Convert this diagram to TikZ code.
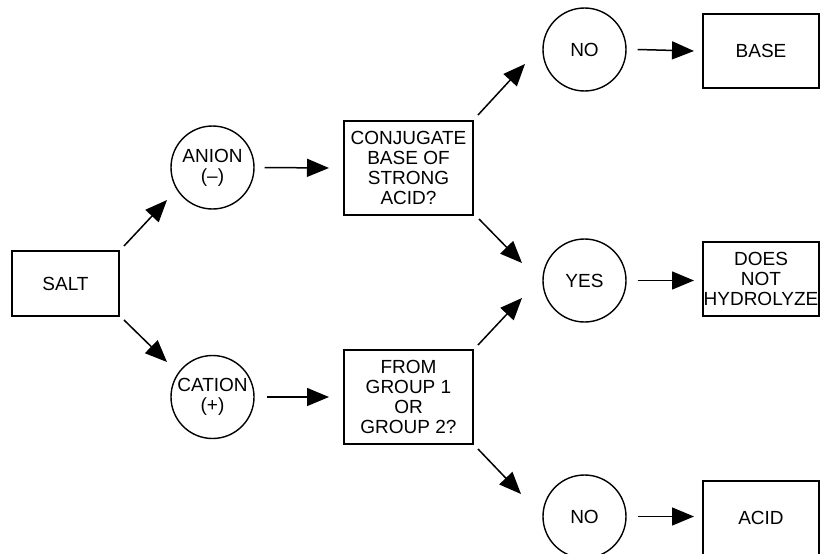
\documentclass[tikz,border=0pt]{standalone}
\usepackage{fontspec}
\setmainfont{Liberation Sans}
\usetikzlibrary{arrows.meta}
\begin{document}
\begin{tikzpicture}[x=1pt,y=-1pt,
  every node/.style={font=\fontsize{19}{19.7}\selectfont, align=center, inner sep=0pt},
  boxnode/.style={draw, line width=2pt, minimum width=#1, minimum height=94pt},
  endbox/.style={draw, line width=2pt, minimum width=116pt, minimum height=74pt},
  circnode/.style={draw, circle, line width=1.4pt, minimum size=83pt},
  arr/.style={line width=1.5pt, -{Triangle[length=22pt,width=18pt]}}]
\useasboundingbox (0,0) rectangle (820,554);
\clip (0,0) rectangle (820,554);
\node[draw, line width=2pt, minimum width=107pt, minimum height=65pt] (salt) at (65.5,283.5) {SALT};
\node[circnode] (anion) at (212.5,167.5) {ANION\\(–)};
\node[circnode] (cation) at (212.5,397) {CATION\\(+)};
\node[boxnode=129pt] (conj) at (408.5,168) {CONJUGATE\\BASE OF\\STRONG\\ACID?};
\node[boxnode=129pt] (from) at (408.5,397) {FROM\\GROUP 1\\OR\\GROUP 2?};
\node[circnode] (no1) at (584.5,49.5) {NO};
\node[circnode] (yes) at (584.5,280.5) {YES};
\node[circnode] (no2) at (584.5,516.5) {NO};
\node[endbox] (base) at (761,51) {BASE};
\node[endbox] (dnh) at (761,279) {DOES\\NOT\\HYDROLYZE};
\node[endbox] (acid) at (761,518) {ACID};
\draw[arr] ([shift={(4,-4)}]salt.north east) -- ([shift={(-45.5,32.5)}]anion.center);
\draw[arr] ([shift={(4,3)}]salt.south east) -- ([shift={(-45.5,-35)}]cation.center);
\draw[arr] ([xshift=10pt]anion.east) -- ([xshift=-14pt]conj.west);
\draw[arr] ([xshift=12pt]cation.east) -- ([xshift=-14pt]from.west);
\draw[arr] ([shift={(4,-5)}]conj.north east) -- ([shift={(-59.5,14.5)}]no1.center);
\draw[arr] ([shift={(5,3)}]conj.south east) -- ([shift={(-62.5,-17.5)}]yes.center);
\draw[arr] ([shift={(4,-4)}]from.north east) -- ([shift={(-62.5,17.5)}]yes.center);
\draw[arr] ([shift={(4,4)}]from.south east) -- ([shift={(-63.5,-22.5)}]no2.center);
\draw[arr] ([xshift=11pt]no1.east) -- ([xshift=-8pt]base.west);
\draw[arr] ([xshift=11pt]yes.east) -- ([xshift=-8pt]dnh.west |- yes.east);
\draw[arr] ([xshift=11pt]no2.east) -- ([xshift=-8pt]acid.west |- no2.east);
\end{tikzpicture}
\end{document}
